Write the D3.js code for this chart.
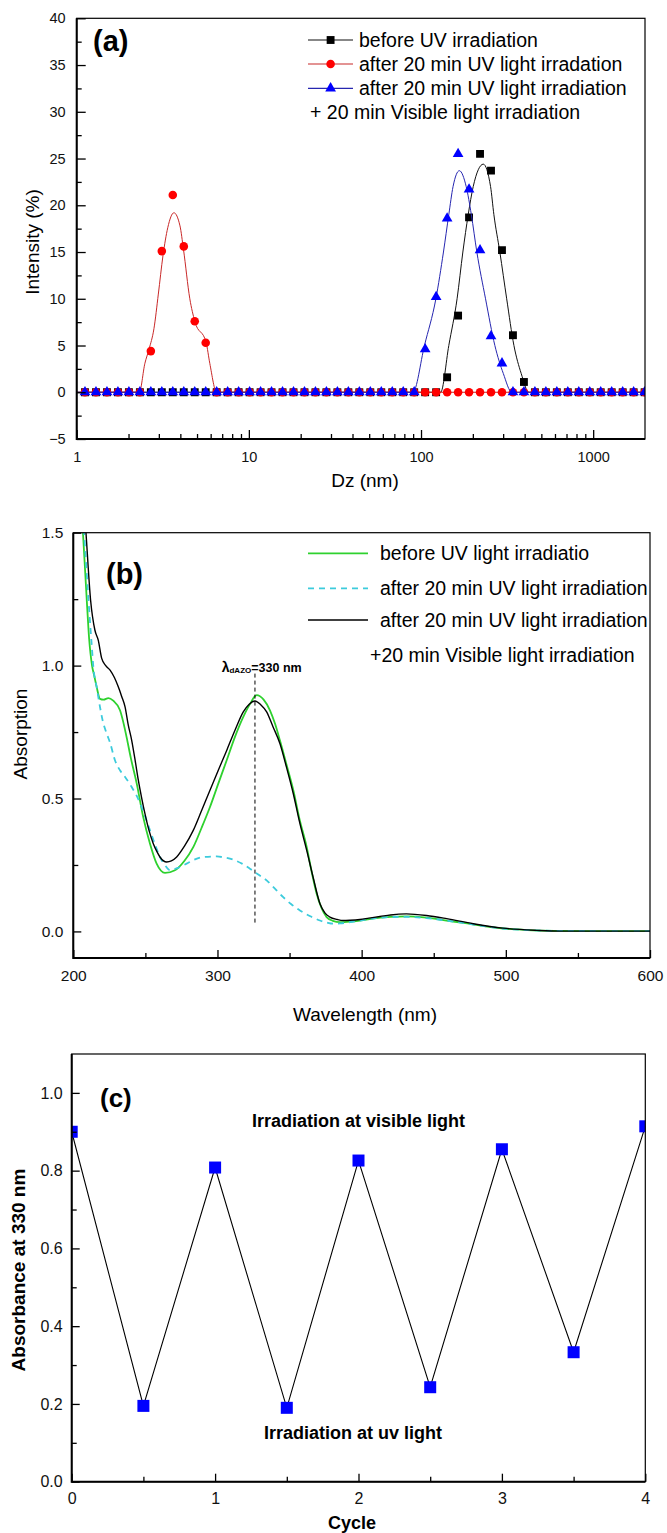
<!DOCTYPE html>
<html><head><meta charset="utf-8">
<script src="https://cdn.jsdelivr.net/npm/d3@7"></script>
<style>body{margin:0;background:#fff}svg{display:block}</style>
</head><body><svg id="chart" width="667" height="1533"></svg>
<script>
// ---------------- Panel (a) data ----------------
const sizeBins = [1.117,1.294,1.499,1.736,2.010,2.328,2.696,3.122,3.615,4.187,4.849,5.615,6.503,7.531,8.721,10.10,11.70,13.54,15.69,18.17,21.04,24.36,28.21,32.67,37.84,43.82,50.75,58.77,68.06,78.82,91.28,105.7,122.4,141.8,164.2,190.1,220.2,255.0,295.3,342.0,396.1,458.7,531.2,615.1,712.4,825.0,955.4,1106,1281,1484,1718,1990];
const intBefore = [0,0,0,0,0,0,0,0,0,0,0,0,0,0,0,0,0,0,0,0,0,0,0,0,0,0,0,0,0,0,0,0,0,1.6,8.2,18.7,25.5,23.7,15.2,6.1,1.1,0,0,0,0,0,0,0,0,0,0,0];
const intUV = [0,0,0,0,0,0,4.4,15.1,21.1,15.6,7.6,5.3,0,0,0,0,0,0,0,0,0,0,0,0,0,0,0,0,0,0,0,0,0,0,0,0,0,0,0,0,0,0,0,0,0,0,0,0,0,0,0,0];
const intUVVis = [0,0,0,0,0,0,0,0,0,0,0,0,0,0,0,0,0,0,0,0,0,0,0,0,0,0,0,0,0,0,0,4.6,10.2,18.6,25.5,21.7,15.2,6.0,3.1,0,0,0,0,0,0,0,0,0,0,0,0,0];
const fitBefore = [[1,0],[130,0],[145,5],[162,10],[175,15],[188,19],[201,22],[230,24.4],[253.5,22],[265,19],[287,15],[314.5,10],[346.5,5],[382,2],[423,0],[2000,0]];
const fitUV = [[1,0],[2.31,0],[2.49,3.1],[2.63,4.6],[2.81,6.8],[2.98,10.5],[3.17,14.6],[3.38,17.6],[3.67,19.2],[3.98,17.8],[4.17,15.3],[4.54,10],[4.85,7.6],[5.65,5.3],[5.93,3.1],[6.5,0],[2000,0]];
const fitUVVis = [[1,0],[89.7,0],[104.7,5],[122,10],[135,15],[145,19],[153.5,22],[167,23.7],[183,22],[196,19],[211,15],[237,10],[268.5,5],[300.7,2],[337,0],[2000,0]];
const aXTicks = [1,10,100,1000];
const aXMinor = [2,3,4,5,6,7,8,9,20,30,40,50,60,70,80,90,200,300,400,500,600,700,800,900];
const aYTicks = [-5,0,5,10,15,20,25,30,35,40];
const aYMinor = [-2.5,2.5,7.5,12.5,17.5,22.5,27.5,32.5,37.5];
const aLegend = ["before UV irradiation","after 20 min UV light irradation","after 20 min UV light irradiation","+ 20 min Visible light irradiation"];

// ---------------- Panel (b) data ----------------
const absBefore = [[204,1.72],[206.7,1.5],[209.3,1.25],[211,1.1],[213,1.0],[214.6,0.96],[216.2,0.92],[218.5,0.875],[221,0.872],[224.3,0.878],[227.7,0.868],[232.4,0.832],[235,0.78],[237,0.73],[240,0.65],[244,0.556],[248.5,0.43],[253.2,0.33],[257.8,0.255],[263.6,0.22],[270.5,0.23],[277,0.265],[283.2,0.317],[289,0.39],[294.8,0.468],[300.5,0.555],[306.4,0.644],[312,0.73],[317.9,0.807],[322.5,0.855],[327.2,0.889],[332,0.872],[336.4,0.832],[340,0.78],[343.3,0.719],[348,0.625],[352.6,0.531],[357,0.42],[361.9,0.317],[365.5,0.22],[368.8,0.142],[372,0.09],[375.7,0.054],[380,0.04],[385,0.035],[392,0.037],[398.8,0.041],[410,0.05],[419.6,0.055],[431,0.0565],[445,0.052],[460,0.04],[470.5,0.032],[485,0.02],[498,0.011],[515,0.005],[537.5,0.002],[560,0.001],[600,0.001]];
const absUV = [[205,1.72],[207.5,1.5],[210.5,1.25],[213,1.06],[213.9,0.995],[216.2,0.92],[218.5,0.845],[220.5,0.79],[223.2,0.744],[225.5,0.71],[228.9,0.644],[232.4,0.606],[235.9,0.581],[240.5,0.543],[244,0.51],[247.4,0.468],[250,0.43],[253.2,0.38],[256.5,0.33],[260.1,0.28],[263.5,0.25],[267.1,0.23],[272,0.238],[278.6,0.255],[284,0.27],[290.2,0.28],[299.4,0.282],[305,0.278],[311,0.27],[317,0.255],[322.5,0.236],[328,0.215],[334.1,0.192],[340,0.16],[345.6,0.129],[351,0.103],[357.2,0.079],[364,0.058],[371.1,0.041],[376,0.033],[380.3,0.029],[385,0.03],[391.9,0.035],[400,0.042],[410,0.05],[420,0.054],[431,0.055],[445,0.05],[460,0.04],[470.5,0.032],[485,0.02],[498,0.011],[515,0.005],[537.5,0.002],[600,0.001]];
const absUVVis = [[206,1.72],[208.8,1.5],[212,1.246],[215,1.133],[217.3,1.096],[219.7,1.027],[222.5,1.0],[225.5,0.983],[228.5,0.955],[231.2,0.92],[233.5,0.885],[235.9,0.845],[238,0.78],[240.5,0.719],[243,0.64],[245.1,0.569],[247.5,0.5],[249.7,0.443],[252.5,0.38],[255.5,0.33],[258,0.3],[260.1,0.28],[264.8,0.261],[268,0.265],[271.7,0.28],[277,0.32],[283.2,0.38],[289,0.455],[294.8,0.531],[300.5,0.605],[306.4,0.681],[312,0.755],[317.9,0.826],[322,0.855],[326,0.867],[330,0.853],[334.1,0.826],[338.5,0.77],[343.3,0.707],[348,0.615],[352.6,0.518],[357,0.41],[361.9,0.305],[366.5,0.2],[371.1,0.104],[374.5,0.07],[378,0.054],[383,0.045],[387.2,0.041],[392,0.042],[398.8,0.045],[405,0.05],[412.7,0.056],[420,0.062],[431,0.066],[445,0.06],[459,0.048],[477.4,0.029],[498,0.0125],[521.4,0.004],[537.5,0.001],[600,0.001]];
const bXTicks = [200,300,400,500,600];
const bXMinor = [250,350,450,550];
const bYTicks = [0,0.5,1.0,1.5];
const bYMinor = [0.25,0.75,1.25];
const bLegend = ["before UV light irradiatio","after 20 min UV light irradiation","after 20 min UV light irradiation","+20 min Visible light irradiation"];
const peakWavelength = 326;

// ---------------- Panel (c) data ----------------
const cycles = [0,0.5,1,1.5,2,2.5,3,3.5,4];
const abs330 = [0.90,0.195,0.808,0.19,0.826,0.243,0.855,0.333,0.914];
const cXTicks = [0,1,2,3,4];
const cXMinor = [0.5,1.5,2.5,3.5];
const cYTicks = [0,0.2,0.4,0.6,0.8,1.0];
const cYMinor = [0.1,0.3,0.5,0.7,0.9];

// ---------------- drawing ----------------
const FONT = '"Liberation Sans", Arial, sans-serif';
const svg = d3.select("#chart");
svg.append("rect").attr("width",667).attr("height",1533).attr("fill","#fff");

function frame(g, L, R, T, B, id){
  g.append("clipPath").attr("id",id).append("rect").attr("x",L).attr("y",T).attr("width",R-L).attr("height",B-T);
}
function drawAxes(x, y, L, R, T, B, o){
  const g = svg.append("g");
  g.append("g").attr("transform",`translate(0,${B})`)
    .call(d3.axisBottom(x).tickValues(o.xMinor).tickSize(-o.minLen).tickFormat(""))
    .call(s=>s.select(".domain").remove());
  g.append("g").attr("transform",`translate(${L},0)`)
    .call(d3.axisLeft(y).tickValues(o.yMinor).tickSize(-o.minLen).tickFormat(""))
    .call(s=>s.select(".domain").remove());
  const xa = g.append("g").attr("transform",`translate(0,${B})`)
    .call(d3.axisBottom(x).tickValues(o.xTicks).tickSize(-o.majLen).tickPadding(o.xPad).tickFormat(o.xFmt))
    .call(s=>s.select(".domain").remove());
  const ya = g.append("g").attr("transform",`translate(${L},0)`)
    .call(d3.axisLeft(y).tickValues(o.yTicks).tickSize(-o.majLen).tickPadding(o.yPad).tickFormat(o.yFmt))
    .call(s=>s.select(".domain").remove());
  [xa,ya].forEach(a=>a.attr("font-family",FONT).attr("font-size",o.fs));
  g.selectAll(".tick line").attr("stroke","#000").attr("stroke-width",1.3);
  g.selectAll(".tick text").attr("fill","#111");
  g.append("rect").attr("x",L).attr("y",T).attr("width",R-L).attr("height",B-T)
    .attr("fill","none").attr("stroke","#000").attr("stroke-width",1.2);
  g.append("path").attr("d",`M${L},${T}V${B}H${R}`).attr("fill","none").attr("stroke","#000").attr("stroke-width",2);
}
function txt(x,y,s,fs,opt={}){
  const t = svg.append("text").attr("x",x).attr("y",y).text(s)
    .attr("font-family",FONT).attr("font-size",fs).attr("fill","#000");
  if(opt.bold) t.attr("font-weight","bold");
  if(opt.anchor) t.attr("text-anchor",opt.anchor);
  if(opt.rotate) t.attr("transform",`rotate(-90,${x},${y})`);
  return t;
}

// ===== Panel (a) =====
{
  const L=76.7,R=645,T=18.3,B=439;
  const x = d3.scaleLog().domain([1,2000]).range([L,R]);
  const y = d3.scaleLinear().domain([-5,40]).range([B,T]);
  frame(svg,L,R,T,B,"clipA");
  const plot = svg.append("g").attr("clip-path","url(#clipA)");
  const line = d3.line().x(d=>x(d[0])).y(d=>y(d[1])).curve(d3.curveMonotoneX);
  const series = [
    {vals:intBefore, fit:fitBefore, col:"#000", lineCol:"#111", sym:d3.symbolSquare, size:62},
    {vals:intUV, fit:fitUV, col:"#ff0000", lineCol:"#c82828", sym:d3.symbolCircle, size:58},
    {vals:intUVVis, fit:fitUVVis, col:"#0000ff", lineCol:"#2626b0", sym:d3.symbolTriangle, size:50}
  ];
  series.forEach(s=>{
    plot.append("path").datum(s.fit).attr("d",line).attr("fill","none").attr("stroke",s.lineCol).attr("stroke-width",1);
    plot.selectAll(null).data(sizeBins).enter().append("path")
      .attr("d",d3.symbol(s.sym,s.size))
      .attr("transform",(d,i)=>`translate(${x(d)},${y(s.vals[i])})`)
      .attr("fill",s.col);
  });
  drawAxes(x,y,L,R,T,B,{xTicks:aXTicks,xMinor:aXMinor,yTicks:aYTicks,yMinor:aYMinor,
    majLen:9,minLen:5,xPad:13,yPad:11,fs:14.5,xFmt:d3.format("d"),yFmt:d3.format("d")});
  const ly=[40,64,88.3];
  series.forEach((s,i)=>{
    svg.append("line").attr("x1",308).attr("x2",353).attr("y1",ly[i]).attr("y2",ly[i]).attr("stroke",s.lineCol).attr("stroke-width",1.2);
    svg.append("path").attr("d",d3.symbol(s.sym,s.size)).attr("transform",`translate(330.6,${ly[i]})`).attr("fill",s.col);
    txt(359,ly[i]+6.5,aLegend[i],19.5);
  });
  txt(310,112.7+6.5,aLegend[3],19.5);
  txt(93,51,"(a)",29,{bold:true});
  txt(365,487,"Dz (nm)",19,{anchor:"middle"});
  txt(39,242,"Intensity (%)",19,{anchor:"middle",rotate:true});
}

// ===== Panel (b) =====
{
  const L=73.3,R=650,T=532.7,B=958;
  const x = d3.scaleLinear().domain([200,600]).range([L,R]);
  const y = d3.scaleLinear().domain([-0.1,1.5]).range([B,T]);
  frame(svg,L,R,T,B,"clipB");
  const plot = svg.append("g").attr("clip-path","url(#clipB)");
  const line = d3.line().x(d=>x(d[0])).y(d=>y(d[1])).curve(d3.curveMonotoneX);
  const styles = [
    {data:absBefore, col:"#2ed12e", w:1.8, dash:null},
    {data:absUV, col:"#3ccbdc", w:1.8, dash:"6,5"},
    {data:absUVVis, col:"#000", w:1.4, dash:null}
  ];
  styles.forEach(s=>{
    const p = plot.append("path").datum(s.data).attr("d",line).attr("fill","none")
      .attr("stroke",s.col).attr("stroke-width",s.w);
    if(s.dash) p.attr("stroke-dasharray",s.dash);
  });
  plot.append("line").attr("x1",x(peakWavelength)).attr("x2",x(peakWavelength))
    .attr("y1",y(0.97)).attr("y2",y(0.025)).attr("stroke","#000").attr("stroke-width",1).attr("stroke-dasharray","4,3");
  drawAxes(x,y,L,R,T,B,{xTicks:bXTicks,xMinor:bXMinor,yTicks:bYTicks,yMinor:bYMinor,
    majLen:8,minLen:5,xPad:12,yPad:10,fs:15.5,xFmt:d3.format("d"),yFmt:d3.format(".1f")});
  const ly=[553.3,588.3,620];
  styles.forEach((s,i)=>{
    const l = svg.append("line").attr("x1",308).attr("x2",368).attr("y1",ly[i]).attr("y2",ly[i])
      .attr("stroke",s.col).attr("stroke-width",s.w);
    if(s.dash) l.attr("stroke-dasharray",s.dash);
    txt(380,ly[i]+6.5,bLegend[i],19.5);
  });
  txt(370,655+6.5,bLegend[3],19.5);
  txt(106,584,"(b)",29,{bold:true});
  const lam = svg.append("text").attr("x",221.7).attr("y",671.7).attr("font-family",FONT).attr("font-weight","bold").attr("fill","#000");
  lam.append("tspan").attr("font-size",14).text("λ");
  lam.append("tspan").attr("font-size",8).attr("dy",1).text("dAZO");
  lam.append("tspan").attr("font-size",12.5).attr("dy",-1).text("=330 nm");
  txt(365,1021,"Wavelength (nm)",19,{anchor:"middle"});
  txt(27,734,"Absorption",19,{anchor:"middle",rotate:true});
}

// ===== Panel (c) =====
{
  const L=71.7,R=645.3,T=1054,B=1481.7;
  const x = d3.scaleLinear().domain([0,4]).range([L,R]);
  const y = d3.scaleLinear().domain([0,1.1]).range([B,T]);
  frame(svg,L,R,T,B,"clipC");
  const plot = svg.append("g").attr("clip-path","url(#clipC)");
  const pts = cycles.map((c,i)=>[c,abs330[i]]);
  plot.append("path").datum(pts).attr("d",d3.line().x(d=>x(d[0])).y(d=>y(d[1])))
    .attr("fill","none").attr("stroke","#000").attr("stroke-width",1.1);
  plot.selectAll(null).data(pts).enter().append("rect")
    .attr("x",d=>x(d[0])-6).attr("y",d=>y(d[1])-6).attr("width",12).attr("height",12).attr("fill","#0000ff");
  drawAxes(x,y,L,R,T,B,{xTicks:cXTicks,xMinor:cXMinor,yTicks:cYTicks,yMinor:cYMinor,
    majLen:8,minLen:5,xPad:11,yPad:9,fs:16,xFmt:d3.format("d"),yFmt:d3.format(".1f")});
  txt(100,1106.5,"(c)",26,{bold:true});
  txt(252,1127,"Irradiation at visible light",18,{bold:true});
  txt(264,1439,"Irradiation at uv light",18,{bold:true});
  txt(352,1529,"Cycle",18,{bold:true,anchor:"middle"});
  txt(25,1270,"Absorbance at 330 nm",19,{bold:true,anchor:"middle",rotate:true});
}
</script></body></html>
